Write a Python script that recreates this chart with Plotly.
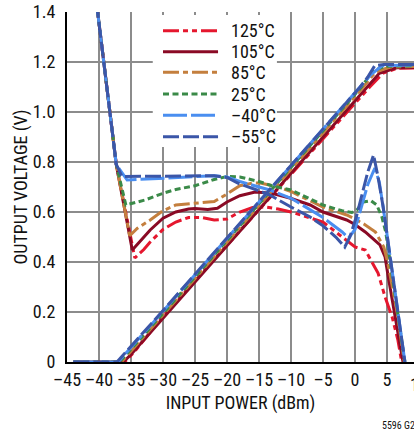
import plotly.graph_objects as go

# ---------------- data ----------------
TEMPS = ["125°C", "105°C", "85°C", "25°C", "–40°C", "–55°C"]

# falling / humped output curve (dBm, V)
DESC_X_125 = [-40.4, -37.3, -34.4, -33, -32, -30, -28, -26, -24, -22, -20, -18, -16, -14, -12, -10, -5, -1.9, 0, 1.6, 2.6, 3.6, 4.7, 5.8, 6.7, 7.3]
DESC_Y_125 = [1.44, 0.79, 0.416, 0.45, 0.48, 0.53, 0.56, 0.578, 0.578, 0.568, 0.572, 0.60, 0.618, 0.62, 0.612, 0.60, 0.56, 0.50, 0.46, 0.448, 0.40, 0.356, 0.26, 0.18, 0.088, 0.0]

DESC_X_105 = [-40.4, -37.3, -34.8, -34, -32, -30, -28, -26, -25, -23, -21.5, -20, -18, -15.6, -13, -10.2, -7, -5, -1.3, 0, 1.6, 3.9, 4.7, 5.2, 5.9, 6.7, 7.5]
DESC_Y_105 = [1.44, 0.79, 0.448, 0.47, 0.528, 0.575, 0.60, 0.612, 0.614, 0.61, 0.615, 0.64, 0.665, 0.68, 0.675, 0.656, 0.628, 0.60, 0.568, 0.55, 0.52, 0.468, 0.42, 0.34, 0.236, 0.128, 0.0]

DESC_X_85 = [-40.4, -37.3, -35.2, -34, -32, -30, -28, -25, -22, -20, -18, -16, -14.8, -12, -10, -5, -1.3, 0, 1.5, 3.2, 4.5, 5.1, 5.8, 6.6, 7.7]
DESC_Y_85 = [1.44, 0.79, 0.505, 0.535, 0.568, 0.605, 0.628, 0.636, 0.642, 0.672, 0.705, 0.716, 0.716, 0.70, 0.682, 0.62, 0.588, 0.572, 0.55, 0.52, 0.46, 0.40, 0.30, 0.196, 0.0]

DESC_X_25 = [-40.4, -37.3, -35.8, -34, -32.8, -30, -28, -25, -22, -20, -18, -15, -13, -10, -5, -2, -0.5, 0.3, 1.3, 2.5, 3.4, 4.2, 4.8, 5.5, 6.7, 7.8]
DESC_Y_25 = [1.44, 0.79, 0.628, 0.64, 0.648, 0.675, 0.69, 0.705, 0.73, 0.742, 0.74, 0.722, 0.705, 0.688, 0.628, 0.605, 0.598, 0.608, 0.64, 0.645, 0.628, 0.58, 0.52, 0.40, 0.2, 0.0]

DESC_X_M40 = [-40.4, -37.3, -35.6, -30, -25, -22, -20, -18, -15, -13.3, -10, -5, -2, -1.0, 0, 1, 2, 3.1, 3.8, 4.4, 5.0, 5.5, 6.7, 7.8]
DESC_Y_M40 = [1.44, 0.79, 0.728, 0.735, 0.74, 0.745, 0.74, 0.722, 0.70, 0.688, 0.655, 0.578, 0.52, 0.496, 0.53, 0.62, 0.71, 0.776, 0.72, 0.62, 0.51, 0.40, 0.196, 0.0]

DESC_X_M55 = [-40.4, -37.3, -36.4, -34, -30, -25, -22, -20, -18, -15, -13.3, -10, -7, -5, -3, -1.6, -0.8, 0.2, 1.2, 2.0, 2.9, 3.6, 4.4, 5.0, 5.5, 6.7, 7.8]
DESC_Y_M55 = [1.44, 0.79, 0.742, 0.742, 0.742, 0.745, 0.745, 0.738, 0.712, 0.685, 0.668, 0.62, 0.58, 0.545, 0.50, 0.46, 0.50, 0.58, 0.68, 0.76, 0.828, 0.74, 0.62, 0.51, 0.40, 0.196, 0.0]

# rising (linear-in-dB) output curve (dBm, V)
RISE_X_125 = [-44, -36, -34.5, -29.4, 2.3, 4.4, 6.6, 9.5]
RISE_Y_125 = [0, 0, 0.04, 0.2, 1.10, 1.156, 1.175, 1.176]
RISE_X_105 = [-44, -36.2, -35, -29.5, 1.8, 3.8, 6.5, 9.5]
RISE_Y_105 = [0, 0, 0.03, 0.19, 1.10, 1.155, 1.177, 1.178]
RISE_X_85 = [-44, -36.5, -29.6, 1.3, 3.2, 5.5, 9.5]
RISE_Y_85 = [0, 0, 0.2, 1.10, 1.16, 1.18, 1.182]
RISE_X_25 = [-44, -36.8, -29.8, 1.0, 2.8, 4.8, 9.5]
RISE_Y_25 = [0, 0, 0.2, 1.10, 1.165, 1.183, 1.185]
RISE_X_M40 = [-44, -37.0, -30.1, 0.9, 2.5, 4.2, 9.5]
RISE_Y_M40 = [0, 0, 0.2, 1.10, 1.15, 1.185, 1.188]
RISE_X_M55 = [-44, -37.2, -30.2, 0.8, 2.0, 3.1, 4.5, 9.5]
RISE_Y_M55 = [0, 0, 0.2, 1.10, 1.14, 1.186, 1.19, 1.19]

X_TICKS = [-45, -40, -35, -30, -25, -20, -15, -10, -5, 0, 5]
X_TICK_TEXT = ["–45", "–40", "–35", "–30", "–25", "–20", "–15", "–10", "–5", "0", "5"]
Y_TICKS = [0, 0.2, 0.4, 0.6, 0.8, 1.0, 1.2, 1.4]
Y_TICK_TEXT = ["0", "0.2", "0.4", "0.6", "0.8", "1.0", "1.2", "1.4"]

# ---------------- styles ----------------
COLORS = ["#e5172e", "#8a0a25", "#c47f3e", "#3a8a48", "#4a8ef0", "#3b56a8"]
DASHES = ["16px,4px,5px,4px,5px,4px", "solid", "16px,4px,5px,4px", "6px,3.5px", "24px,4px", "16px,4px"]
FONT = "Liberation Sans Narrow, Arial Narrow, Roboto Condensed, DejaVu Sans Condensed, sans-serif"

DESC = [(DESC_X_125, DESC_Y_125), (DESC_X_105, DESC_Y_105), (DESC_X_85, DESC_Y_85),
        (DESC_X_25, DESC_Y_25), (DESC_X_M40, DESC_Y_M40), (DESC_X_M55, DESC_Y_M55)]
RISE = [(RISE_X_125, RISE_Y_125), (RISE_X_105, RISE_Y_105), (RISE_X_85, RISE_Y_85),
        (RISE_X_25, RISE_Y_25), (RISE_X_M40, RISE_Y_M40), (RISE_X_M55, RISE_Y_M55)]

fig = go.Figure()
for name, (dx, dy), (rx, ry), col, dash in zip(TEMPS, DESC, RISE, COLORS, DASHES):
    fig.add_trace(go.Scatter(
        x=list(rx) + [None] + list(dx), y=list(ry) + [None] + list(dy),
        mode="lines", name=name, showlegend=False, connectgaps=False,
        line=dict(color=col, width=3, dash=dash),
    ))

X_MIN, X_MAX = -45, -45 + 347 / 6.4

# custom legend (long line samples like the original)
LEG_X0, LEG_X1, LEG_TX = -30.0, -21.4, -19.7
LEG_Y = [1.325, 1.241, 1.159, 1.072, 0.987, 0.901]
shapes = [dict(type="rect", xref="x", yref="y", x0=-31.6, x1=-12.2, y0=0.86, y1=1.388,
               fillcolor="white", line=dict(width=0), layer="above")]
annotations = []
for name, col, dash, ly in zip(TEMPS, COLORS, DASHES, LEG_Y):
    shapes.append(dict(type="line", xref="x", yref="y", x0=LEG_X0, x1=LEG_X1, y0=ly, y1=ly,
                       line=dict(color=col, width=3, dash=dash), layer="above"))
    annotations.append(dict(x=LEG_TX, y=ly, xref="x", yref="y", text=name, showarrow=False,
                            xanchor="left", yanchor="middle", font=dict(size=18, color="#111")))

# cut-off "10" tick label at the right edge
annotations.append(dict(x=(10 - X_MIN) / (X_MAX - X_MIN), y=0, xref="paper", yref="paper",
                        text="10", showarrow=False, xanchor="center", yanchor="top", yshift=-10,
                        font=dict(size=18, color="#111")))
annotations.append(dict(x=0.902, y=-0.18, xref="paper", yref="paper", text="5596 G20",
                        showarrow=False, xanchor="left", yanchor="middle",
                        font=dict(size=10, color="#111")))

fig.update_layout(
    width=414, height=433,
    margin=dict(l=67, r=0, t=12, b=71),
    paper_bgcolor="white", plot_bgcolor="white",
    font=dict(family=FONT, size=18, color="#111"),
    shapes=shapes, annotations=annotations,
    showlegend=False,
)
fig.update_xaxes(
    range=[X_MIN, X_MAX], tickvals=X_TICKS, ticktext=X_TICK_TEXT,
    showgrid=True, gridcolor="#8c8c8c", gridwidth=1.5, zeroline=False,
    showline=True, linecolor="black", linewidth=2, ticks="",
    title=dict(text="INPUT POWER (dBm)", font=dict(size=18), standoff=8),
    tickfont=dict(size=18),
)
fig.update_yaxes(
    range=[0, 1.4], tickvals=Y_TICKS, ticktext=Y_TICK_TEXT,
    showgrid=True, gridcolor="#8c8c8c", gridwidth=1.5, zeroline=False,
    showline=True, linecolor="black", linewidth=2, ticks="",
    title=dict(text="OUTPUT VOLTAGE (V)", font=dict(size=18), standoff=1),
    tickfont=dict(size=18), ticklabelstandoff=6,
)

fig.write_html("out.html")
